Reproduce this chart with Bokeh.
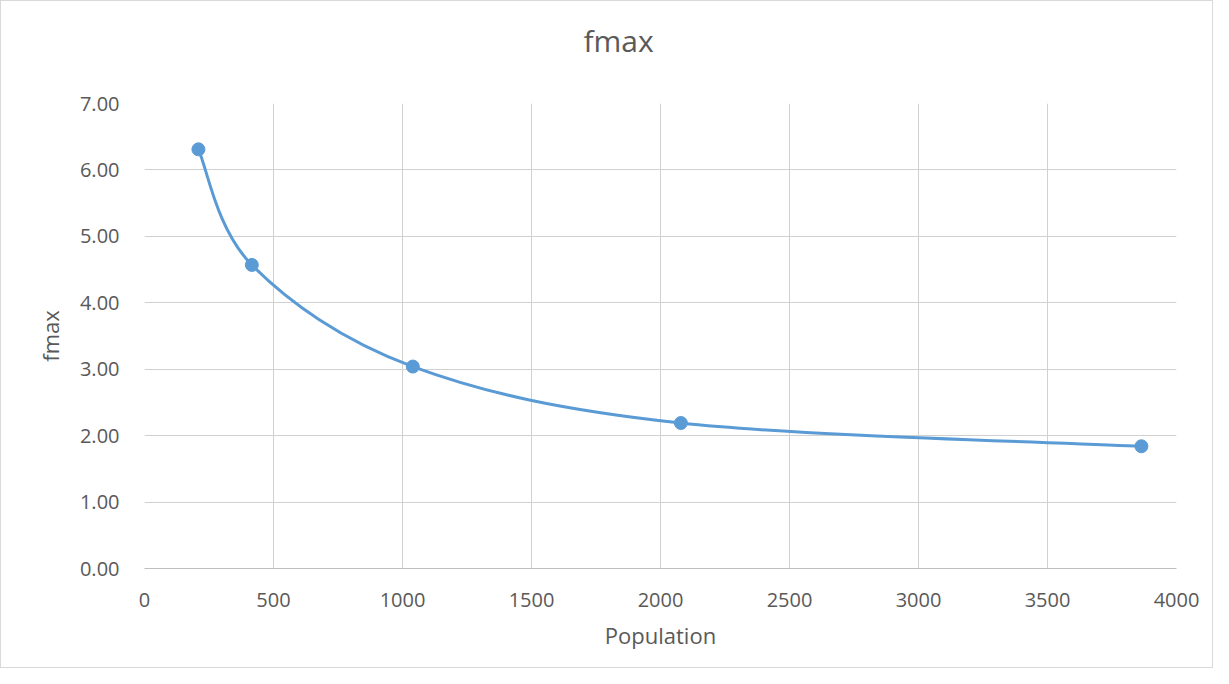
from bokeh.plotting import figure
from bokeh.models import FixedTicker, NumeralTickFormatter, Range1d
from bokeh.embed import file_html
from bokeh.resources import INLINE

population = [209, 416, 1040, 2079, 3864]
fmax = [6.31, 4.57, 3.04, 2.19, 1.84]
x_ticks = [0, 500, 1000, 1500, 2000, 2500, 3000, 3500, 4000]
y_ticks = [0, 1, 2, 3, 4, 5, 6, 7]
title_text = "fmax"

BLUE = "#5B9BD5"
FONT = "Open Sans"
TXT = "#595959"

p = figure(width=1213, height=668, output_backend="svg", toolbar_location=None,
           x_range=Range1d(0, 4000), y_range=Range1d(0, 7),
           min_border_left=143, min_border_right=38, min_border_top=102, min_border_bottom=101)
p.outline_line_color = None
p.background_fill_color = "white"
p.border_fill_color = "white"
p.styles = {"border": "1px solid #d9d9d9"}

# title: a trailing empty line lifts it away from the frame
p.title.text = title_text + "\n"
p.title.align = "left"
p.title.offset = 439
p.title.standoff = 4
p.title.text_font = FONT
p.title.text_font_size = "30px"
p.title.text_font_style = "normal"
p.title.text_color = TXT

for ax in (p.xaxis[0], p.yaxis[0]):
    ax.major_tick_line_color = None
    ax.minor_tick_line_color = None
    ax.major_label_text_font = FONT
    ax.major_label_text_font_size = "20px"
    ax.major_label_text_color = TXT
    ax.axis_label_text_font = FONT
    ax.axis_label_text_font_size = "22px"
    ax.axis_label_text_font_style = "normal"
    ax.axis_label_text_color = TXT

p.xaxis.ticker = FixedTicker(ticks=x_ticks)
p.yaxis.ticker = FixedTicker(ticks=y_ticks)
p.yaxis.formatter = NumeralTickFormatter(format="0.00")
p.xaxis.axis_label = "Population"
p.yaxis.axis_label = "fmax"
p.xaxis.axis_line_color = "#bfbfbf"
p.xaxis.axis_line_width = 1
p.yaxis.axis_line_color = None
p.xaxis.major_label_standoff = 18
p.yaxis.major_label_standoff = 19
p.xaxis.axis_label_standoff = 10
p.yaxis.axis_label_standoff = 12

p.xgrid.ticker = FixedTicker(ticks=x_ticks)
p.ygrid.ticker = FixedTicker(ticks=y_ticks)
p.xgrid.grid_line_color = "#d0d0d0"
p.ygrid.grid_line_color = "#d0d0d0"

# Smoothed line (Catmull-Rom style Bezier, like Excel's smoothed scatter)
n = len(population)
x0s, y0s, x1s, y1s, cx0, cy0, cx1, cy1 = [], [], [], [], [], [], [], []
t = 1.0 / 6.0
for i in range(n - 1):
    pa = max(i - 1, 0)
    pb = min(i + 2, n - 1)
    xA, yA = population[i], fmax[i]
    xB, yB = population[i + 1], fmax[i + 1]
    x0s.append(xA); y0s.append(yA); x1s.append(xB); y1s.append(yB)
    cx0.append(xA + (xB - population[pa]) * t)
    cy0.append(yA + (yB - fmax[pa]) * t)
    cx1.append(xB - (population[pb] - xA) * t)
    cy1.append(yB - (fmax[pb] - yA) * t)

p.bezier(x0=x0s, y0=y0s, x1=x1s, y1=y1s, cx0=cx0, cy0=cy0, cx1=cx1, cy1=cy1,
         line_color=BLUE, line_width=3)
p.scatter(population, fmax, size=13, fill_color=BLUE, line_color=BLUE)

open("out.html", "w").write(file_html(p, INLINE))
